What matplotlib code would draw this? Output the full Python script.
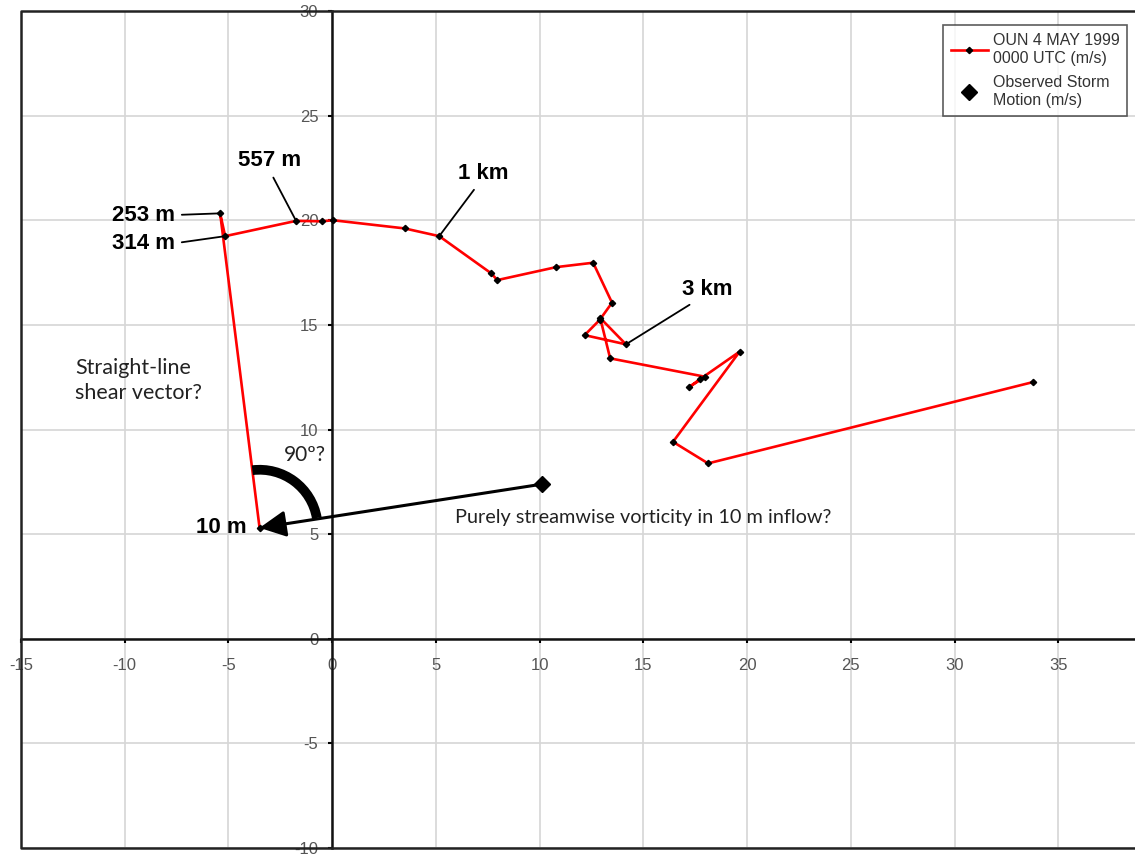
import numpy as np
import matplotlib
matplotlib.use("Agg")
import matplotlib.pyplot as plt
from matplotlib.patches import Arc

# hodograph points (u, v in m/s), lowest level first
u = [-3.5, -5.40, -5.16, -1.74, -0.50, 0.05, 3.49, 5.16, 7.67, 7.96, 10.8,
     12.58, 13.49, 12.89, 12.17, 14.16, 12.92, 13.40, 17.98, 17.18, 17.74,
     19.64, 16.43, 18.12, 33.8]
v = [5.30, 20.33, 19.24, 19.97, 19.95, 20.0, 19.61, 19.24, 17.46, 17.14, 17.76,
     17.97, 16.06, 15.23, 14.51, 14.07, 15.33, 13.40, 12.52, 12.01, 12.41,
     13.72, 9.41, 8.38, 12.27]

storm_u = [10.13]
storm_v = [7.39]

# height labels and which hodograph point each one points at
height_labels = ["253 m", "314 m", "557 m", "1 km", "3 km"]
height_index = [1, 2, 3, 7, 15]

x_ticks = [-15, -10, -5, 0, 5, 10, 15, 20, 25, 30, 35]
y_ticks = [-10, -5, 0, 5, 10, 15, 20, 25, 30]

plt.rcParams["font.family"] = ["Liberation Sans", "DejaVu Sans"]
plt.rcParams["axes.unicode_minus"] = False

W, H = 1135, 856
fig = plt.figure(figsize=(W / 100, H / 100), dpi=100)
ax = fig.add_axes([21 / W, 8 / H, (W - 21) / W, 837 / H])
ax.set_xlim(-15, 38.7)
ax.set_ylim(-10, 30)

ax.set_xticks(x_ticks)
ax.set_yticks(y_ticks)
ax.grid(True, color="#d6d6d6", lw=1.2, zorder=0)
ax.set_axisbelow(True)

ax.spines["left"].set_position(("data", 0))
ax.spines["bottom"].set_position(("data", 0))
ax.spines["top"].set_visible(False)
ax.spines["right"].set_visible(False)
for s in ("left", "bottom"):
    ax.spines[s].set_linewidth(1.8)
    ax.spines[s].set_color("#111111")
    ax.spines[s].set_zorder(2)

ax.tick_params(axis="x", direction="out", length=3, width=1.5,
               labelsize=12, labelcolor="#555555", pad=11)
ax.tick_params(axis="y", direction="out", length=3, width=1.5,
               labelsize=12, labelcolor="#555555", pad=7)

# outer frame (left, top, bottom; right edge is cut off)
ax.plot([1, 0, 0, 1], [1, 1, 0, 0], transform=ax.transAxes, color="#222222",
        lw=1.8, clip_on=False, zorder=3)

# hodograph
ax.plot(u, v, color="red", lw=1.9, marker="D", ms=3.2, mfc="black",
        mec="black", zorder=4, label="OUN 4 MAY 1999\n0000 UTC (m/s)")
ax.plot(storm_u, storm_v, ls="none", marker="D", ms=8.5, color="black",
        zorder=5, label="Observed Storm\nMotion (m/s)")

# arrow from storm motion to 10 m wind
ax.annotate("", xy=(u[0], v[0]), xytext=(storm_u[0], storm_v[0]),
            arrowprops=dict(arrowstyle="-|>,head_length=0.8,head_width=0.4",
                            lw=2.2, color="black", shrinkA=0, shrinkB=0,
                            mutation_scale=20), zorder=5)

# thick arc marking the angle between shear vector and storm-relative inflow
t1 = np.degrees(np.arctan2(storm_v[0] - v[0], storm_u[0] - u[0]))
t2 = np.degrees(np.arctan2(v[1] - v[0], u[1] - u[0]))
px_x = ax.get_position().width * W / (38.7 + 15)
px_y = ax.get_position().height * H / 40
r = 2.8
ax.add_patch(Arc((u[0], v[0]), 2 * r, 2 * r * px_x / px_y, theta1=t1 + 1,
                 theta2=t2, lw=7, color="black", zorder=4))

# height labels with leader lines
label_xy = [(-9.1, 20.25), (-9.1, 18.9), (-3.0, 22.85), (7.3, 22.25), (18.1, 16.7)]
relpos = [(1.0, 0.5), (1.0, 0.5), (0.5, 0.0), (0.4, 0.0), (0.3, 0.0)]
for lab, i, xy, rp in zip(height_labels, height_index, label_xy, relpos):
    ax.annotate(lab, xy=(u[i], v[i]), xytext=xy, ha="center", va="center",
                fontsize=16, fontweight="bold",
                arrowprops=dict(arrowstyle="-", color="black", lw=1.3,
                                shrinkA=3, shrinkB=0, relpos=rp), zorder=6)
ax.text(-4.1, v[0], "10 m", ha="right", va="center", fontsize=16,
        fontweight="bold", zorder=6)

note = dict(family=["Lato", "DejaVu Sans"], color="#222222")
ax.text(-12.4, 12.35, "Straight-line\nshear vector?", ha="left", va="center",
        linespacing=1.3, fontsize=15.5, **note)
ax.text(-1.3, 8.8, "90º?", ha="center", va="center", fontsize=15, **note)
ax.text(5.9, 5.8, "Purely streamwise vorticity in 10 m inflow?", ha="left",
        va="center", fontsize=14.3, **note)

leg = ax.legend(loc="upper left", bbox_to_anchor=(943 / W, 1 - 25 / H),
                bbox_transform=fig.transFigure, borderaxespad=0, fontsize=11.5,
                frameon=True, fancybox=False, edgecolor="#333333",
                handlelength=2.3, handletextpad=0.3, borderpad=0.5,
                labelspacing=0.55, labelcolor="#333333")
leg.get_frame().set_linewidth(1.2)
for t in leg.get_texts():
    t.set_linespacing(1.25)

fig.savefig("out.png", dpi=100)
